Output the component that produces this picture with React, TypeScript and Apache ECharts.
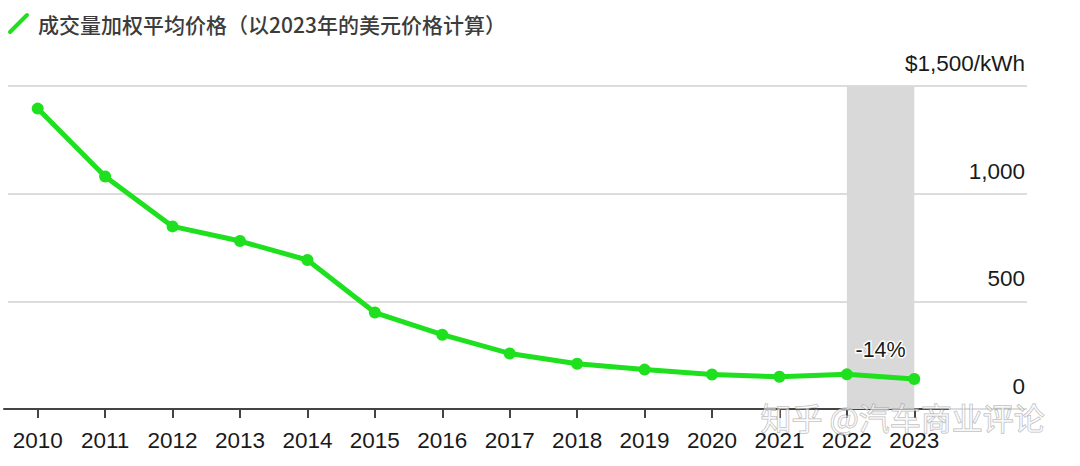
import React, { useEffect, useRef } from "react";
import * as echarts from "echarts";

const years = ["2010","2011","2012","2013","2014","2015","2016","2017","2018","2019","2020","2021","2022","2023"];
const prices = [1395, 1080, 848, 780, 692, 448, 345, 258, 210, 183, 160, 150, 161, 139];
const yTicks = [0, 500, 1000, 1500];
const legendText = "成交量加权平均价格（以2023年的美元价格计算）";
const changeLabel = "-14%";
const highlightFrom = "2022";
const highlightTo = "2023";
const watermark = "知乎 @汽车商业评论";

const GREEN = "#1fe01f";
const FONT = "'Liberation Sans', Arial, sans-serif";

export default function App() {
  const ref = useRef<HTMLDivElement>(null);
  useEffect(() => {
    if (!ref.current) return;
    const chart = echarts.init(ref.current, undefined, { renderer: "svg" });
    chart.setOption({
      animation: false,
      backgroundColor: "#ffffff",
      grid: [
        { left: 8, right: 53, top: 86, bottom: 57 },
        { left: 4, width: 944, top: 86, bottom: 57 },
      ],
      xAxis: [
        { gridIndex: 0, type: "category", data: years, show: false },
        {
          gridIndex: 1,
          type: "category",
          data: years,
          boundaryGap: true,
          axisLine: { show: true, lineStyle: { color: "#444", width: 2 } },
          axisTick: { show: true, alignWithLabel: true, length: 9, lineStyle: { color: "#444", width: 2 } },
          axisLabel: { color: "#1a1a1a", fontSize: 22.5, fontFamily: FONT, margin: 20 },
          splitLine: { show: false },
        },
      ],
      yAxis: [
        {
          gridIndex: 0,
          type: "value",
          position: "right",
          min: 0,
          max: 1500,
          interval: 500,
          axisLine: { show: false },
          axisTick: { show: false },
          splitLine: { show: true, lineStyle: { color: "#dcdcdc", width: 2 } },
          axisLabel: {
            inside: true,
            margin: 2,
            verticalAlign: "bottom",
            padding: [0, 0, 11, 0],
            color: "#1a1a1a",
            fontSize: 22.5,
            fontFamily: FONT,
            formatter: (v: number) =>
              v === yTicks[yTicks.length - 1] ? "$" + v.toLocaleString("en-US") + "/kWh" : v.toLocaleString("en-US"),
          },
        },
        { gridIndex: 1, type: "value", min: 0, max: 1500, interval: 500, show: false },
      ],
      graphic: [
        {
          type: "line",
          shape: { x1: 10, y1: 32, x2: 27, y2: 15 },
          style: { stroke: GREEN, lineWidth: 4, lineCap: "round" },
        },
        {
          type: "text",
          left: 38,
          top: 13,
          style: {
            text: legendText,
            fill: "#3c3c3c",
            fontSize: 21,
            fontWeight: 500,
            fontFamily: "'Noto Sans CJK SC', sans-serif",
          },
        },
        {
          type: "text",
          left: 760,
          top: 400,
          z: 100,
          style: {
            text: watermark,
            fill: "rgba(255,255,255,0.55)",
            stroke: "rgba(120,120,120,0.55)",
            lineWidth: 1,
            fontSize: 31,
            fontFamily: "'Noto Sans CJK SC', sans-serif",
          },
        },
      ],
      series: [
        {
          type: "line",
          xAxisIndex: 1,
          yAxisIndex: 1,
          data: prices,
          symbol: "circle",
          symbolSize: 12,
          lineStyle: { color: GREEN, width: 5 },
          itemStyle: { color: GREEN },
          z: 5,
          markArea: {
            silent: true,
            itemStyle: { color: "#d9d9d9" },
            label: {
              show: true,
              position: "insideBottom",
              distance: 48,
              formatter: changeLabel,
              color: "#1a1a1a",
              fontSize: 21.5,
              fontFamily: FONT,
              textBorderColor: "#ffffff",
              textBorderWidth: 3,
            },
            data: [[{ xAxis: highlightFrom }, { xAxis: highlightTo }]],
          },
        },
      ],
    });
    return () => chart.dispose();
  }, []);
  return <div ref={ref} style={{ width: 1080, height: 466, position: "absolute", left: 0, top: 0 }} />;
}
